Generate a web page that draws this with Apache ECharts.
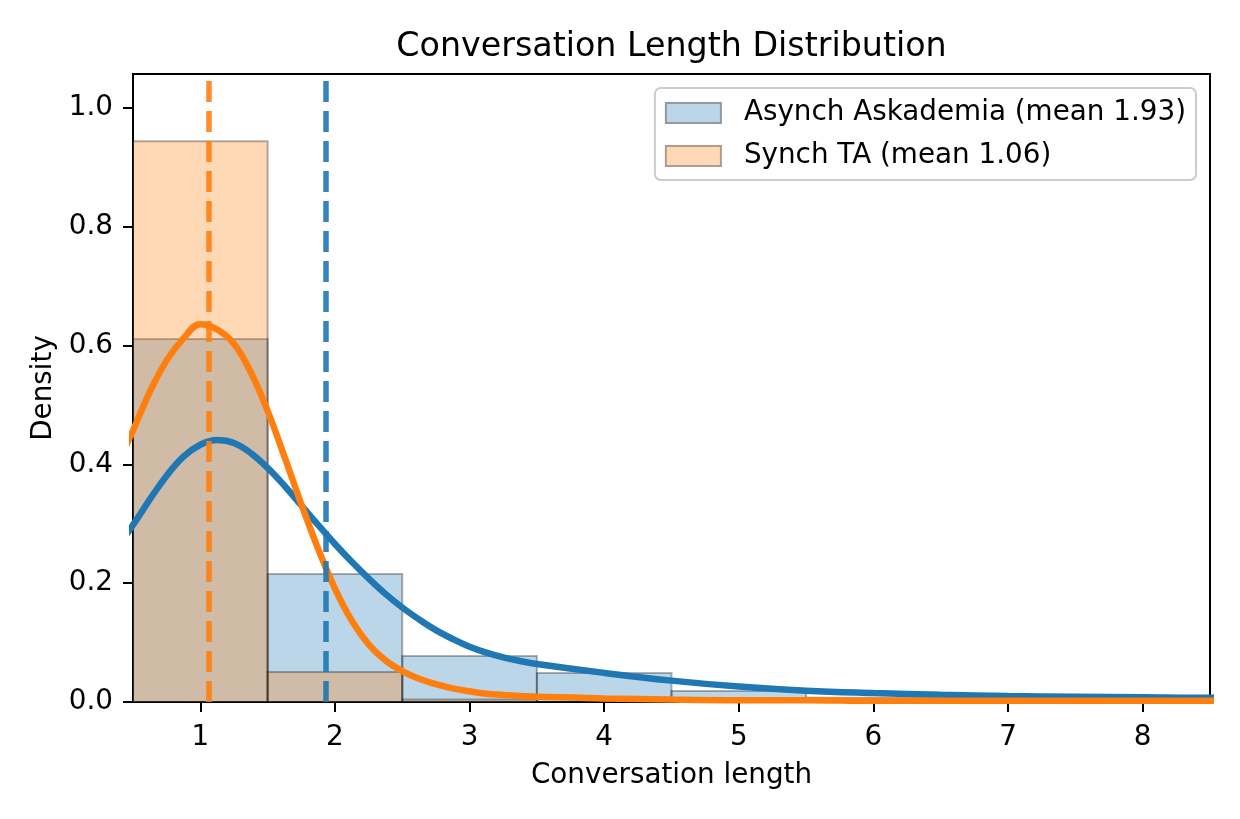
<!DOCTYPE html>
<html>
<head>
<meta charset="utf-8">
<script src="https://cdn.jsdelivr.net/npm/echarts@6/dist/echarts.min.js"></script>
<style>
  html, body { margin: 0; padding: 0; background: #fff; }
  #chart { width: 1240px; height: 819px; }
</style>
</head>
<body>
<div id="chart"></div>
<script>
// histogram bins (left/right edges) and densities
const binLeft = [0.5, 1.5, 2.5, 3.5, 4.5, 5.5, 6.5, 7.5]
const binRight = [1.5, 2.5, 3.5, 4.5, 5.5, 6.5, 7.5, 8.5]
const asynchHist = [0.611, 0.2155, 0.0774, 0.0488, 0.0185, 0.007, 0.004, 0.003]
const synchHist = [0.944, 0.0505, 0.004, 0.0, 0.0, 0.0, 0.0, 0.0]

// KDE curves
const kdeX = [0.375, 0.5, 0.625, 0.75, 0.875, 1.0, 1.125, 1.25, 1.375, 1.5, 1.625, 1.75, 1.875, 2.0,
  2.125, 2.25, 2.375, 2.5, 2.625, 2.75, 2.875, 3.0, 3.125, 3.25, 3.375, 3.5,
  4.0, 4.5, 5.0, 5.5, 6.0, 6.5, 7.0, 7.5, 8.0, 8.5, 8.625]
const asynchKde = [0.258, 0.298, 0.341, 0.381, 0.413, 0.433, 0.441, 0.436, 0.419, 0.394, 0.364, 0.331, 0.298, 0.266,
  0.236, 0.208, 0.182, 0.159, 0.139, 0.121, 0.106, 0.093, 0.083, 0.075, 0.069, 0.064,
  0.049, 0.036, 0.026, 0.019, 0.015, 0.012, 0.010, 0.009, 0.008, 0.007, 0.007]
const synchKde = [0.395, 0.457, 0.522, 0.575, 0.612, 0.636, 0.627, 0.603, 0.555, 0.490, 0.413, 0.333, 0.258, 0.191,
  0.137, 0.097, 0.070, 0.052, 0.039, 0.030, 0.023, 0.018, 0.014, 0.012, 0.010, 0.009,
  0.006, 0.004, 0.003, 0.003, 0.002, 0.002, 0.002, 0.002, 0.002, 0.002, 0.002]

const asynchMean = 1.93
const synchMean = 1.06
const xTicks = [1, 2, 3, 4, 5, 6, 7, 8]
const yTicks = [0, 0.2, 0.4, 0.6, 0.8, 1.0]

const seriesNames = ['Asynch Askademia (mean 1.93)', 'Synch TA (mean 1.06)']
const blue = '#1f77b4'
const orange = '#ff7f0e'
const font = 'DejaVu Sans'

const chart = echarts.init(document.getElementById('chart'), null, { renderer: 'canvas' })

const histSeries = (name, vals, color) => ({
  name,
  type: 'custom',
  z: 2,
  silent: true,
  itemStyle: { color },
  data: vals.map((v, i) => [binLeft[i], binRight[i], v]),
  renderItem: (params, api) => {
    const h = api.value(2)
    if (h <= 0) return null
    const p0 = api.coord([api.value(0), h])
    const p1 = api.coord([api.value(1), 0])
    return {
      type: 'rect',
      shape: { x: p0[0], y: p0[1], width: p1[0] - p0[0], height: p1[1] - p0[1] },
      style: { fill: color, stroke: '#000', lineWidth: 2, opacity: 0.3 }
    }
  }
})

const kdeSeries = (vals, color) => ({
  type: 'line',
  z: 3,
  silent: true,
  showSymbol: false,
  smooth: 0.4,
  clip: true,
  lineStyle: { color, width: 6.5 },
  data: kdeX.map((x, i) => [x, vals[i]])
})

const meanLine = (x, color) => ({
  type: 'line',
  z: 4,
  silent: true,
  data: [],
  markLine: {
    silent: true,
    symbol: 'none',
    animation: false,
    label: { show: false },
    lineStyle: { color, width: 5.5, type: [21, 9], opacity: 0.9 },
    data: [{ xAxis: x }]
  }
})

const option = {
  animation: false,
  backgroundColor: '#fff',
  textStyle: { fontFamily: font },
  grid: {
    left: 133, right: 30, top: 74, bottom: 117,
    show: true, borderColor: '#000', borderWidth: 2, containLabel: false
  },
  graphic: [{
    type: 'text',
    x: 671.5, y: 47,
    style: {
      text: 'Conversation Length Distribution',
      font: '33.3px "DejaVu Sans"',
      fill: '#000',
      align: 'center',
      verticalAlign: 'middle'
    }
  }],
  legend: {
    orient: 'vertical',
    right: 44,
    top: 88,
    padding: [9, 10, 8, 10],
    itemWidth: 55,
    itemHeight: 20,
    itemGap: 11,
    icon: 'rect',
    backgroundColor: '#fff',
    borderColor: '#cccccc',
    borderWidth: 2,
    borderRadius: 6,
    selectedMode: false,
    textStyle: { fontFamily: font, fontSize: 27.8, color: '#000', lineHeight: 32, padding: [0, 0, 0, 18] },
    data: [
      { name: seriesNames[0], itemStyle: { color: '#bbd6e8', borderColor: '#8e9ba5', borderWidth: 2 } },
      { name: seriesNames[1], itemStyle: { color: '#ffd8b6', borderColor: '#b09c8c', borderWidth: 2 } }
    ]
  },
  xAxis: {
    type: 'value',
    min: 0.5,
    max: 8.5,
    name: 'Conversation length',
    nameLocation: 'middle',
    nameGap: 60,
    nameTextStyle: { fontFamily: font, fontSize: 27.8, color: '#000' },
    axisLine: { show: true, onZero: false, lineStyle: { color: '#000', width: 2 } },
    axisTick: { show: true, length: 10, lineStyle: { color: '#000', width: 2 }, customValues: xTicks },
    axisLabel: { fontFamily: font, fontSize: 27.8, color: '#000', margin: 22, customValues: xTicks },
    splitLine: { show: false }
  },
  yAxis: {
    type: 'value',
    min: 0,
    max: 1.057,
    name: 'Density',
    nameLocation: 'middle',
    nameGap: 72,
    nameRotate: 90,
    nameTextStyle: { fontFamily: font, fontSize: 27.8, color: '#000' },
    axisLine: { show: true, onZero: false, lineStyle: { color: '#000', width: 2 } },
    axisTick: { show: true, length: 10, lineStyle: { color: '#000', width: 2 }, customValues: yTicks },
    axisLabel: {
      fontFamily: font, fontSize: 27.8, color: '#000', margin: 20,
      customValues: yTicks,
      formatter: v => v.toFixed(1)
    },
    splitLine: { show: false }
  },
  series: [
    histSeries(seriesNames[0], asynchHist, blue),
    histSeries(seriesNames[1], synchHist, orange),
    kdeSeries(asynchKde, blue),
    kdeSeries(synchKde, orange),
    meanLine(synchMean, orange),
    meanLine(asynchMean, blue)
  ]
}

chart.setOption(option)
</script>
</body>
</html>
